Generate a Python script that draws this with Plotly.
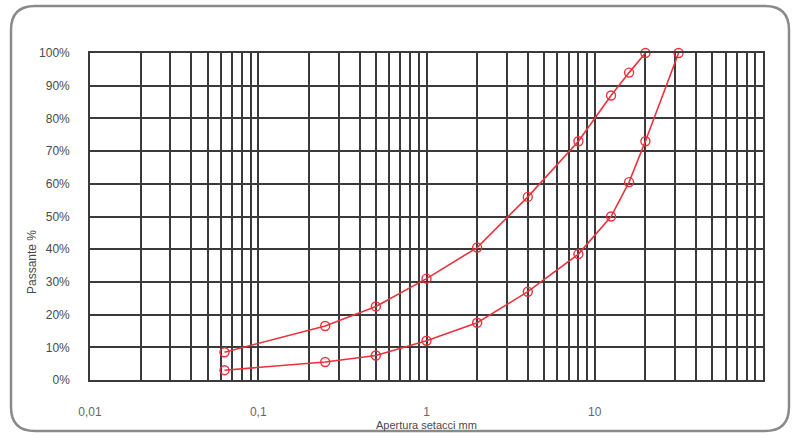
import plotly.graph_objects as go

# Sieve openings (mm) and passing percentages
sieves_fine = [0.063, 0.25, 0.5, 1, 2, 4, 8, 12.5, 16, 20]
passing_upper = [8.5, 16.5, 22.5, 31, 40.5, 56, 73, 87, 94, 100]

sieves_coarse = [0.063, 0.25, 0.5, 1, 2, 4, 8, 12.5, 16, 20, 31.5]
passing_lower = [3, 5.5, 7.5, 12, 17.5, 27, 38.5, 50, 60.5, 73, 100]

decades = [0.01, 0.1, 1, 10]
decade_labels = ["0,01", "0,1", "1", "10"]
y_ticks = [0, 10, 20, 30, 40, 50, 60, 70, 80, 90, 100]
y_labels = [f"{v}%" for v in y_ticks]

x_tickvals = []
x_ticktext = []
for d, lab in zip(decades, decade_labels):
    for m in range(1, 10):
        x_tickvals.append(d * m)
        x_ticktext.append(lab if m == 1 else "")
x_tickvals.append(100)
x_ticktext.append("")

red = "#e8323c"
grid = "#3a3a3a"
txt = "#4a4a4a"
fig = go.Figure()
for xs, ys in [(sieves_fine, passing_upper), (sieves_coarse, passing_lower)]:
    fig.add_trace(go.Scatter(
        x=xs, y=ys, mode="lines+markers",
        line=dict(color=red, width=1.6),
        marker=dict(symbol="circle-open", size=9, color=red, line=dict(width=1.4)),
        showlegend=False, hoverinfo="skip", cliponaxis=False))

W, H = 796, 437
L, R, T, B = 90, 33, 53, 57
pw, ph = W - L - R, H - T - B

def px(x):
    return (x - L) / pw

def py(y):
    return (H - B - y) / ph

x0, x1, y0, y1 = px(11), px(789), py(6), py(431)
rx, ry = 24 / pw, 24 / ph
path = (f"M {x0+rx},{y0} L {x1-rx},{y0} Q {x1},{y0} {x1},{y0-ry} "
        f"L {x1},{y1+ry} Q {x1},{y1} {x1-rx},{y1} L {x0+rx},{y1} "
        f"Q {x0},{y1} {x0},{y1+ry} L {x0},{y0-ry} Q {x0},{y0} {x0+rx},{y0} Z")

fig.update_layout(
    width=W, height=H,
    margin=dict(l=L, r=R, t=T, b=B, autoexpand=False),
    paper_bgcolor="white", plot_bgcolor="white",
    font=dict(family="Liberation Sans, Arial", size=11, color=txt),
    xaxis=dict(type="log", range=[-2, 2], tickvals=x_tickvals, ticktext=x_ticktext,
               showgrid=True, gridcolor=grid, gridwidth=1.6, automargin=False,
               showline=True, linecolor=grid, linewidth=1.6, mirror=True,
               zeroline=False, ticks="", ticklabelstandoff=20,
               tickfont=dict(size=12, color="#666")),
    yaxis=dict(range=[0, 100], tickvals=y_ticks, ticktext=y_labels,
               showgrid=True, gridcolor=grid, gridwidth=1.6, automargin=False,
               showline=True, linecolor=grid, linewidth=1.6, mirror=True,
               zeroline=False, ticks="", ticklabelstandoff=16,
               tickfont=dict(size=12, color=txt)),
    shapes=[dict(type="path", path=path, xref="paper", yref="paper",
                 line=dict(color="#8a8a8a", width=2.5), layer="below")],
    annotations=[
        dict(text="Apertura setacci mm", x=px(426), y=py(425), xref="paper", yref="paper",
             xanchor="center", yanchor="middle",
             showarrow=False, font=dict(size=11, color=txt)),
        dict(text="Passante %", x=px(32), y=py(262), xref="paper", yref="paper",
             xanchor="center", yanchor="middle",
             showarrow=False, textangle=-90, font=dict(size=12, color=txt)),
    ],
)

fig.write_html("out.html", config={"displayModeBar": False},
               post_script="document.body.style.margin='0';document.body.style.overflow='hidden';")
